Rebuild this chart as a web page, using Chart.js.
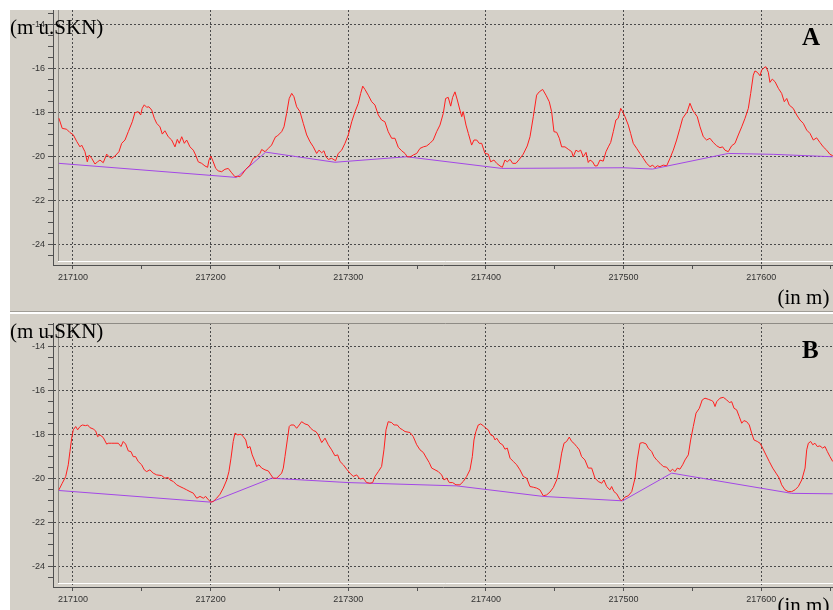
<!DOCTYPE html>
<html>
<head>
<meta charset="utf-8">
<script src="https://cdn.jsdelivr.net/npm/chart.js@4/dist/chart.umd.min.js"></script>
<style>
  html, body { margin: 0; padding: 0; background: #fff; overflow: hidden; }
  .panel { position: absolute; left: 10px; width: 823px; background: #d4d0c8; }
  .panel canvas { display: block; }
  #panelA { top: 10px; height: 301px; border-bottom: 1px solid #a09d96; }
  #panelB { top: 314px; height: 296px; }
</style>
</head>
<body>
<div class="panel" id="panelA"><canvas id="chartA" width="823" height="301"></canvas></div>
<div class="panel" id="panelB"><canvas id="chartB" width="823" height="296"></canvas></div>
<script>
// Profil A: Sohle (rot) und Bezugslinie (violett), Lage in m, Hoehe in m u.SKN
const profileA_x = [
  217089.8, 217092.2, 217095.4, 217097.8, 217100.2, 217102.7, 217105.1, 217106.3, 217108.7, 217110.4,
  217111.8, 217113.6, 217116.0, 217117.9, 217119.6, 217122.0, 217124.5, 217126.2, 217128.1, 217130.5,
  217133.4, 217135.4, 217137.8, 217140.2, 217143.1, 217145.0, 217147.4, 217149.2, 217150.3, 217151.8,
  217153.5, 217155.2, 217157.2, 217159.1, 217160.8, 217163.2, 217164.9, 217166.8, 217169.2, 217171.7,
  217174.1, 217175.8, 217177.2, 217179.0, 217180.9, 217182.6, 217185.0, 217187.4, 217189.1, 217191.0,
  217193.5, 217195.9, 217197.8, 217198.8, 217200.2, 217201.9, 217203.7, 217205.5, 217208.0, 217210.4,
  217212.8, 217215.3, 217217.7, 217219.6, 217221.3, 217223.0, 217225.5, 217228.6, 217231.0, 217233.4,
  217235.8, 217237.1, 217239.5, 217241.9, 217244.3, 217246.0, 217247.2, 217248.4, 217251.6, 217253.3,
  217255.2, 217257.1, 217258.9, 217260.5, 217262.5, 217264.9, 217267.3, 217269.8, 217272.2, 217274.6,
  217277.0, 217278.7, 217280.7, 217282.3, 217283.8, 217285.5, 217287.9, 217290.8, 217292.7, 217295.2,
  217297.6, 217300.0, 217302.5, 217304.9, 217307.3, 217309.0, 217310.5, 217312.1, 217314.5, 217317.0,
  217319.4, 217321.8, 217324.2, 217326.6, 217329.0, 217331.5, 217333.9, 217336.3, 217338.8, 217341.2,
  217342.8, 217345.3, 217347.2, 217349.7, 217352.1, 217354.5, 217356.9, 217359.3, 217361.7, 217364.2,
  217366.6, 217369.0, 217370.7, 217372.6, 217374.4, 217375.8, 217377.5, 217379.2, 217381.1, 217382.4,
  217383.5, 217385.5, 217387.2, 217389.6, 217391.3, 217393.3, 217395.1, 217396.9, 217399.3, 217401.7,
  217403.4, 217405.8, 217407.8, 217410.2, 217411.9, 217413.8, 217415.5, 217417.5, 217419.4, 217421.8,
  217424.2, 217427.1, 217430.0, 217432.0, 217434.4, 217436.8, 217438.7, 217441.2, 217443.6, 217446.0,
  217447.7, 217449.4, 217451.4, 217453.3, 217455.0, 217457.4, 217459.8, 217462.3, 217463.4, 217465.4,
  217467.1, 217468.8, 217470.7, 217472.7, 217474.3, 217475.6, 217477.5, 217479.2, 217480.9, 217482.8,
  217485.2, 217487.2, 217488.9, 217490.6, 217492.5, 217494.4, 217496.1, 217497.9, 217499.3, 217501.0,
  217503.4, 217505.1, 217507.0, 217509.5, 217511.9, 217514.3, 217516.7, 217519.2, 217521.1, 217522.8,
  217524.5, 217526.4, 217528.8, 217531.3, 217533.7, 217536.1, 217538.5, 217540.9, 217542.9, 217544.6,
  217546.2, 217548.2, 217550.2, 217551.8, 217553.5, 217555.5, 217557.9, 217560.3, 217562.7, 217565.1,
  217567.6, 217570.0, 217571.9, 217573.6, 217576.0, 217578.5, 217580.9, 217583.3, 217585.8, 217588.2,
  217590.6, 217592.3, 217594.2, 217595.4, 217597.1, 217599.1, 217600.3, 217602.0, 217603.4, 217605.1,
  217606.3, 217608.0, 217610.0, 217612.4, 217614.8, 217616.7, 217618.5, 217620.3, 217623.2, 217625.7,
  217628.1, 217630.5, 217633.0, 217635.4, 217637.8, 217640.2, 217642.6, 217645.0, 217647.5, 217649.9,
  217651.9
];
const profileA_depth = [
  -18.25, -18.71, -18.75, -18.90, -19.00, -19.30, -19.55, -19.47, -19.77, -20.23,
  -19.92, -20.07, -20.33, -20.23, -20.15, -20.27, -19.88, -20.00, -20.07, -19.97,
  -19.77, -19.39, -19.24, -18.86, -18.41, -18.00, -17.95, -18.10, -17.80, -17.64,
  -17.75, -17.73, -17.88, -18.25, -18.48, -18.64, -18.97, -18.82, -19.09, -19.24,
  -19.55, -19.21, -19.39, -19.09, -19.39, -19.24, -19.55, -19.70, -19.92, -20.23,
  -20.30, -20.42, -20.48, -20.15, -19.97, -20.23, -20.53, -20.64, -20.68, -20.57,
  -20.53, -20.73, -20.91, -20.88, -20.91, -20.79, -20.57, -20.38, -20.07, -20.00,
  -19.85, -19.67, -19.77, -19.62, -19.47, -19.24, -19.09, -19.06, -18.86, -18.64,
  -18.03, -17.35, -17.12, -17.27, -17.73, -17.95, -18.48, -19.01, -19.32, -19.55,
  -19.85, -19.70, -19.82, -19.73, -20.00, -20.12, -20.07, -20.18, -19.85, -19.70,
  -19.39, -19.01, -18.41, -17.95, -17.57, -17.12, -16.79, -16.94, -17.20, -17.50,
  -17.65, -18.10, -18.33, -18.41, -18.86, -19.16, -19.16, -19.57, -19.73, -19.85,
  -20.00, -20.00, -19.92, -19.85, -19.62, -19.55, -19.51, -19.39, -19.24, -18.86,
  -18.56, -18.03, -17.35, -17.30, -17.70, -17.30, -17.05, -17.42, -17.88, -18.18,
  -17.95, -18.56, -18.94, -19.47, -19.24, -19.24, -19.39, -19.39, -19.85, -19.88,
  -20.23, -20.15, -20.30, -20.42, -20.48, -20.15, -20.23, -20.12, -20.30, -20.30,
  -20.12, -19.88, -19.51, -19.09, -18.18, -17.20, -17.05, -16.94, -17.20, -17.50,
  -17.95, -18.86, -18.89, -19.16, -19.55, -19.55, -19.66, -19.77, -20.00, -19.70,
  -19.77, -19.70, -20.00, -19.80, -20.26, -20.15, -20.23, -20.42, -20.41, -20.15,
  -20.20, -19.77, -19.55, -19.35, -18.86, -18.33, -18.25, -17.80, -17.95, -18.18,
  -18.56, -18.94, -19.39, -19.62, -19.85, -20.07, -20.30, -20.45, -20.38, -20.50,
  -20.41, -20.45, -20.38, -20.41, -20.07, -19.70, -19.24, -18.71, -18.25, -18.10,
  -17.95, -17.57, -17.88, -18.03, -18.18, -18.64, -19.09, -19.24, -19.16, -19.35,
  -19.50, -19.59, -19.55, -19.70, -19.77, -19.50, -19.39, -19.01, -18.64, -18.25,
  -17.80, -17.12, -16.29, -16.10, -16.16, -16.32, -16.06, -15.95, -15.91, -16.16,
  -16.62, -16.47, -16.59, -16.89, -17.12, -17.50, -17.35, -17.65, -17.80, -18.10,
  -18.33, -18.48, -18.79, -18.94, -19.24, -19.14, -19.35, -19.55, -19.70, -19.89,
  -19.95
];
const baseA_x = [217089.8, 217218.9, 217240.0, 217290.3, 217342.4, 217411.4, 217499.7, 217521.0, 217576.0, 217608.7, 217651.9];
const baseA_depth = [-20.30, -20.94, -19.79, -20.25, -20.00, -20.53, -20.50, -20.56, -19.85, -19.89, -20.00];

// Profil B
const profileB_x = [
  217089.8, 217092.2, 217094.7, 217096.6, 217097.8, 217099.1, 217100.2, 217102.0, 217103.4, 217105.1,
  217106.8, 217109.2, 217110.7, 217112.3, 217114.7, 217116.5, 217117.9, 217119.6, 217122.0, 217124.5,
  217125.6, 217128.1, 217130.5, 217132.9, 217134.9, 217136.5, 217138.3, 217140.2, 217142.1, 217143.8,
  217145.5, 217147.4, 217149.9, 217151.8, 217153.5, 217155.9, 217158.3, 217160.8, 217164.4, 217166.8,
  217169.2, 217170.5, 217172.9, 217175.3, 217177.7, 217180.1, 217182.6, 217185.0, 217187.4, 217189.9,
  217192.3, 217194.7, 217196.4, 217198.3, 217200.2, 217201.9, 217204.4, 217206.8, 217209.2, 217211.7,
  217213.3, 217214.8, 217216.4, 217217.7, 217219.6, 217222.0, 217223.7, 217225.5, 217226.9, 217228.6,
  217230.2, 217232.2, 217233.4, 217235.1, 217237.1, 217239.5, 217241.9, 217243.8, 217245.5, 217248.0,
  217251.6, 217252.8, 217254.0, 217255.7, 217257.1, 217258.2, 217260.5, 217262.5, 217264.4, 217266.1,
  217268.5, 217270.9, 217272.7, 217274.6, 217276.5, 217278.2, 217280.7, 217283.1, 217285.5, 217287.9,
  217290.3, 217292.3, 217294.0, 217296.4, 217298.8, 217301.2, 217303.6, 217306.1, 217308.5, 217310.9,
  217313.3, 217315.7, 217317.7, 217319.4, 217321.8, 217324.2, 217325.9, 217327.4, 217329.0, 217331.5,
  217333.2, 217335.6, 217337.5, 217339.5, 217341.2, 217344.8, 217347.2, 217349.7, 217352.1, 217354.5,
  217356.4, 217358.8, 217360.6, 217363.0, 217365.4, 217367.8, 217369.5, 217371.5, 217373.4, 217375.8,
  217378.2, 217381.1, 217383.5, 217386.0, 217388.4, 217390.1, 217391.3, 217392.7, 217394.4, 217396.2,
  217398.1, 217400.0, 217401.7, 217403.4, 217405.3, 217406.6, 217407.8, 217410.2, 217412.1, 217413.8,
  217415.5, 217417.5, 217419.9, 217422.3, 217424.7, 217427.1, 217429.6, 217432.0, 217434.4, 217436.8,
  217439.2, 217441.6, 217444.1, 217446.5, 217448.9, 217451.4, 217453.3, 217455.0, 217456.7, 217458.6,
  217460.5, 217462.3, 217463.9, 217465.9, 217467.8, 217469.5, 217471.9, 217474.3, 217476.8, 217479.2,
  217481.6, 217484.1, 217485.7, 217487.7, 217490.1, 217491.3, 217493.0, 217495.0, 217497.4, 217498.6,
  217501.0, 217503.4, 217505.9, 217508.3, 217509.9, 217511.9, 217513.9, 217516.3, 217517.9, 217520.4,
  217522.1, 217524.0, 217526.4, 217528.8, 217531.3, 217533.7, 217535.6, 217537.3, 217539.0, 217540.9,
  217542.9, 217544.6, 217547.0, 217548.7, 217550.6, 217552.6, 217555.0, 217557.1, 217559.1, 217561.5,
  217564.0, 217565.1, 217566.4, 217567.6, 217570.0, 217572.4, 217574.9, 217576.8, 217578.5, 217580.2,
  217582.1, 217584.0, 217585.8, 217587.4, 217589.4, 217591.3, 217593.0, 217594.7, 217597.1, 217599.1,
  217601.0, 217603.4, 217605.8, 217608.3, 217610.7, 217613.1, 217614.8, 217617.2, 217619.6, 217622.1,
  217624.5, 217626.9, 217629.4, 217631.8, 217633.0, 217634.2, 217635.9, 217637.4, 217639.0, 217640.7,
  217642.6, 217644.6, 217646.3, 217648.0, 217649.9, 217651.9
];
const profileB_depth = [
  -20.50, -20.20, -19.90, -19.36, -18.76, -18.15, -17.77, -17.62, -17.77, -17.62,
  -17.55, -17.58, -17.55, -17.67, -17.73, -17.82, -18.08, -18.00, -18.12, -18.42,
  -18.38, -18.38, -18.38, -18.38, -18.53, -18.30, -18.42, -18.73, -18.76, -18.99,
  -18.99, -19.21, -19.36, -19.59, -19.67, -19.59, -19.74, -19.82, -19.85, -19.97,
  -19.94, -20.05, -20.12, -20.27, -20.35, -20.42, -20.50, -20.58, -20.65, -20.88,
  -20.80, -20.88, -20.80, -20.95, -21.06, -21.03, -20.88, -20.70, -20.42, -20.05,
  -19.67, -19.06, -18.30, -17.92, -18.00, -17.97, -18.08, -18.23, -18.60, -18.53,
  -18.91, -19.21, -19.44, -19.36, -19.51, -19.59, -19.64, -19.82, -19.97, -19.97,
  -19.74, -19.51, -18.99, -18.23, -17.62, -17.55, -17.55, -17.70, -17.55, -17.40,
  -17.50, -17.55, -17.70, -17.80, -17.85, -18.00, -18.35, -18.15, -18.45, -18.68,
  -18.95, -18.91, -19.21, -19.36, -19.56, -19.74, -19.89, -19.82, -20.01, -19.97,
  -20.17, -20.20, -20.17, -19.89, -19.67, -19.44, -18.68, -17.77, -17.40, -17.44,
  -17.55, -17.55, -17.70, -17.77, -17.85, -17.89, -18.08, -18.45, -18.68, -18.80,
  -19.01, -19.26, -19.51, -19.59, -19.67, -19.82, -20.05, -19.97, -20.17, -20.17,
  -20.27, -20.27, -20.12, -19.89, -19.59, -18.99, -18.23, -17.85, -17.55, -17.50,
  -17.59, -17.70, -17.77, -18.00, -18.05, -18.23, -18.15, -18.38, -18.45, -18.65,
  -18.60, -19.06, -19.21, -19.36, -19.59, -19.89, -19.97, -20.35, -20.38, -20.42,
  -20.50, -20.77, -20.73, -20.60, -20.40, -20.05, -19.51, -18.83, -18.38, -18.30,
  -18.10, -18.30, -18.38, -18.53, -18.68, -18.99, -19.14, -19.51, -19.51, -19.97,
  -20.12, -20.20, -20.05, -20.35, -20.50, -20.35, -20.58, -20.68, -20.95, -20.99,
  -20.83, -20.77, -20.58, -19.97, -19.14, -18.38, -18.35, -18.41, -18.60, -18.76,
  -18.99, -19.14, -19.29, -19.44, -19.47, -19.67, -19.56, -19.67, -19.51, -19.56,
  -19.36, -19.14, -18.91, -18.23, -17.62, -17.01, -16.79, -16.41, -16.33, -16.38,
  -16.44, -16.49, -16.71, -16.49, -16.33, -16.29, -16.41, -16.53, -16.49, -16.79,
  -16.86, -17.17, -17.47, -17.35, -17.40, -17.55, -17.92, -18.23, -18.30, -18.38,
  -18.60, -18.91, -19.21, -19.51, -19.74, -19.97, -20.27, -20.50, -20.58, -20.58,
  -20.50, -20.35, -20.05, -19.51, -18.68, -18.38, -18.30, -18.45, -18.38, -18.53,
  -18.50, -18.60, -18.53, -18.76, -18.99, -19.21
];
const baseB_x = [217089.8, 217200.2, 217244.3, 217300.0, 217378.7, 217441.6, 217499.3, 217534.9, 217622.1, 217651.9];
const baseB_depth = [-20.53, -21.06, -19.97, -20.17, -20.32, -20.80, -21.00, -19.74, -20.66, -20.68];

// Achsen
const xRange = [217085.5, 217652.1];
const xTickStep = 50;
const xLabelStep = 100;
const yRangeA = [-24.92, -13.33];
const yRangeB = [-24.92, -12.91];
const yTickStep = 0.5;
const yLabelStep = 2;

const gridColor = '#4a4a4a';
const axisColor = '#505050';
const labelColor = '#333333';
const serif = '"Liberation Serif", "Times New Roman", serif';

function zip(xs, ys) {
  return xs.map((x, i) => ({ x: x, y: ys[i] }));
}

function isMajor(ctx, step) {
  return ctx.tick && Math.abs(ctx.tick.value % step) < 1e-6;
}

function makeChart(canvasId, cfg) {
  // Rahmen der Zeichenflaeche (weisse Unterkante, graue linke Kante)
  const frame = {
    id: 'frame',
    beforeDatasetsDraw(chart) {
      const ctx = chart.ctx;
      const a = chart.chartArea;
      ctx.save();
      ctx.lineWidth = 1;
      ctx.strokeStyle = '#ffffff';
      ctx.beginPath();
      ctx.moveTo(a.left + 5, a.bottom - 3.5);
      ctx.lineTo(a.right, a.bottom - 3.5);
      ctx.stroke();
      ctx.strokeStyle = '#8e8b85';
      ctx.beginPath();
      ctx.moveTo(a.left + 5.5, a.top);
      ctx.lineTo(a.left + 5.5, a.bottom - 4);
      if (cfg.topLine) {
        ctx.moveTo(a.left + 5, a.top + 0.5);
        ctx.lineTo(a.right, a.top + 0.5);
      }
      ctx.stroke();
      ctx.restore();
    }
  };
  // Beschriftungen: Einheit, Kennbuchstabe, Lage
  const notes = {
    id: 'notes',
    afterDraw(chart) {
      const ctx = chart.ctx;
      ctx.save();
      ctx.fillStyle = '#000';
      ctx.textBaseline = 'alphabetic';
      cfg.notes.forEach(function (t) {
        ctx.font = t.font;
        ctx.fillText(t.text, t.x, t.y);
      });
      ctx.restore();
    }
  };

  return new Chart(document.getElementById(canvasId), {
    type: 'line',
    data: {
      datasets: [
        {
          data: zip(cfg.profileX, cfg.profileY),
          borderColor: '#ff1e1e',
          borderWidth: 1,
          pointRadius: 0,
          tension: 0
        },
        {
          data: zip(cfg.baseX, cfg.baseY),
          borderColor: '#a347e6',
          borderWidth: 1,
          pointRadius: 0,
          tension: 0
        }
      ]
    },
    options: {
      responsive: false,
      animation: false,
      events: [],
      layout: { padding: { top: cfg.padTop, left: 0, right: 0, bottom: 0 } },
      plugins: {
        legend: { display: false },
        tooltip: { enabled: false }
      },
      scales: {
        x: {
          type: 'linear',
          min: xRange[0],
          max: xRange[1],
          afterFit: function (s) {
            s.height = cfg.xAxisHeight;
            s.paddingLeft = 0;
            s.paddingRight = 0;
          },
          border: { color: axisColor, dash: [2, 2] },
          grid: {
            color: (c) => isMajor(c, xLabelStep) ? gridColor : 'rgba(0,0,0,0)',
            tickColor: axisColor,
            tickLength: 4,
            tickBorderDash: []
          },
          ticks: {
            stepSize: xTickStep,
            includeBounds: false,
            autoSkip: false,
            maxRotation: 0,
            color: labelColor,
            font: { family: '"Liberation Sans", Arial, sans-serif', size: 9 },
            callback: (v) => Math.abs(v % xLabelStep) < 1e-6 ? String(v) : ''
          }
        },
        y: {
          min: cfg.yRange[0],
          max: cfg.yRange[1],
          afterFit: function (s) {
            s.width = 43;
            s.paddingTop = 0;
            s.paddingBottom = 0;
          },
          border: { color: axisColor, dash: [2, 2] },
          grid: {
            color: (c) => isMajor(c, yLabelStep) ? gridColor : 'rgba(0,0,0,0)',
            tickColor: axisColor,
            tickLength: 5,
            tickBorderDash: []
          },
          ticks: {
            stepSize: yTickStep,
            includeBounds: false,
            autoSkip: false,
            color: labelColor,
            font: { family: '"Liberation Sans", Arial, sans-serif', size: 9 },
            callback: (v) => Math.abs(v % yLabelStep) < 1e-6 ? String(v) : ''
          }
        }
      }
    },
    plugins: [frame, notes]
  });
}

makeChart('chartA', {
  profileX: profileA_x, profileY: profileA_depth,
  baseX: baseA_x, baseY: baseA_depth,
  yRange: yRangeA, padTop: 0, xAxisHeight: 46, topLine: false,
  notes: [
    { text: '(m u.SKN)', x: 0, y: 23.5, font: '21px ' + serif },
    { text: 'A', x: 792, y: 35, font: 'bold 25px ' + serif },
    { text: '(in m)', x: 767.5, y: 294, font: '21px ' + serif }
  ]
});

makeChart('chartB', {
  profileX: profileB_x, profileY: profileB_depth,
  baseX: baseB_x, baseY: baseB_depth,
  yRange: yRangeB, padTop: 9, xAxisHeight: 23, topLine: true,
  notes: [
    { text: '(m u.SKN)', x: 0, y: 23.5, font: '21px ' + serif },
    { text: 'B', x: 792, y: 43.5, font: 'bold 25px ' + serif },
    { text: '(in m)', x: 767.5, y: 298, font: '21px ' + serif }
  ]
});
</script>
</body>
</html>
